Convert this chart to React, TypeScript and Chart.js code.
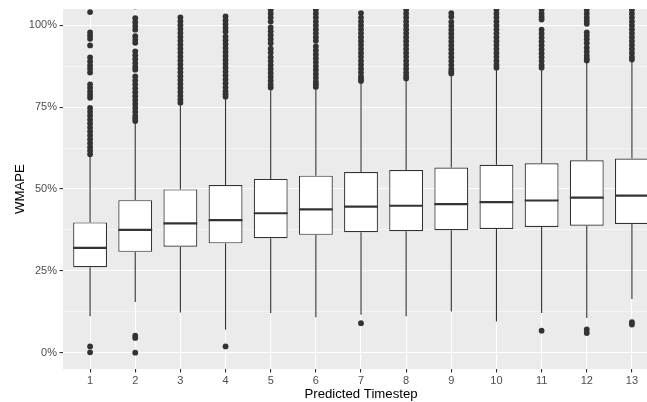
import { useEffect, useRef } from "react";
import { Chart, registerables } from "chart.js";

Chart.register(...registerables);

// Prediction horizon (x categories)
const steps = [1, 2, 3, 4, 5, 6, 7, 8, 9, 10, 11, 12, 13];

// Five-number summaries of WMAPE (%) per predicted timestep
const whiskerLow = [11.1, 15.5, 12.3, 7.0, 12.1, 10.8, 11.6, 11.1, 12.6, 9.5, 12.1, 10.6, 16.4];
const q1 = [26.1, 30.8, 32.4, 33.4, 35.0, 36.0, 36.8, 37.1, 37.4, 37.8, 38.4, 38.8, 39.3];
const median = [32.0, 37.5, 39.5, 40.5, 42.6, 43.8, 44.6, 44.9, 45.4, 46.0, 46.5, 47.4, 48.0];
const q3 = [39.8, 46.6, 49.9, 51.2, 53.1, 54.1, 55.2, 55.8, 56.6, 57.4, 57.9, 58.8, 59.3];
const whiskerHigh = [59.8, 70.0, 75.6, 77.4, 80.2, 80.4, 82.2, 83.0, 84.5, 86.3, 86.3, 88.5, 88.8];

// Outliers above the upper whisker, one list per timestep
const outliersHigh: number[][] = [
  [104.1, 97.9, 96.9, 95.9, 93.9, 90.2, 89.0, 87.8, 86.7, 85.6, 82.0, 80.9, 79.8, 78.8, 77.9, 74.8, 73.6, 72.4, 71.2, 70.0, 68.8, 67.6, 66.4, 65.2, 64.0, 62.8, 61.7, 60.6],
  [105.8, 102.2, 101.0, 99.8, 98.7, 96.7, 95.6, 94.7, 92.1, 90.9, 89.7, 88.5, 87.4, 86.5, 84.4, 83.2, 82.0, 80.8, 79.6, 78.4, 77.2, 76.0, 74.8, 73.6, 72.4, 71.6, 70.8],
  [102.5, 101.3, 100.1, 98.9, 97.7, 96.5, 95.3, 94.1, 92.9, 91.7, 90.5, 89.3, 88.1, 86.9, 85.7, 84.5, 83.3, 82.1, 80.9, 79.7, 78.5, 77.4, 76.4],
  [102.8, 101.6, 100.4, 99.2, 98.1, 96.6, 95.5, 94.3, 93.1, 91.9, 90.7, 89.5, 88.3, 87.1, 85.9, 84.7, 83.5, 82.3, 81.1, 79.9, 79.0, 78.2],
  [106.0, 104.8, 103.6, 102.4, 101.2, 99.4, 98.2, 97.0, 95.8, 94.6, 92.9, 91.7, 90.3, 89.1, 87.9, 86.7, 85.5, 84.3, 83.1, 81.9, 81.0],
  [106.0, 104.8, 103.6, 102.4, 101.2, 100.0, 98.8, 97.6, 96.4, 95.3, 93.6, 92.4, 91.2, 90.0, 88.8, 87.6, 86.4, 85.2, 84.0, 82.8, 82.0, 81.2],
  [103.8, 102.4, 101.2, 100.0, 98.8, 97.6, 96.4, 95.2, 94.0, 92.8, 91.6, 90.4, 89.2, 88.0, 86.8, 85.6, 84.4, 83.6, 83.0],
  [106.0, 104.8, 103.6, 102.4, 101.2, 100.0, 98.8, 97.6, 96.4, 95.2, 94.0, 92.8, 91.6, 90.4, 89.2, 88.0, 86.8, 85.6, 84.6, 83.8],
  [103.8, 102.7, 101.1, 99.9, 98.7, 97.5, 96.3, 95.1, 93.9, 92.7, 91.5, 90.3, 89.1, 87.9, 86.7, 85.9, 85.3],
  [106.0, 104.8, 103.6, 102.4, 101.2, 100.0, 98.8, 97.6, 96.4, 95.2, 94.0, 92.8, 91.6, 90.4, 89.2, 88.0, 87.1],
  [106.0, 104.8, 103.6, 102.6, 101.8, 98.7, 97.5, 96.3, 95.1, 93.9, 92.7, 91.5, 90.3, 89.1, 87.9, 87.1],
  [106.0, 104.8, 103.6, 102.4, 101.4, 100.5, 97.9, 96.9, 95.8, 94.6, 93.2, 92.0, 90.8, 89.9, 89.3],
  [106.0, 104.8, 103.6, 102.4, 101.2, 100.0, 98.8, 97.6, 96.4, 95.2, 94.0, 92.8, 91.6, 90.4, 89.6],
];

// Outliers below the lower whisker
const outliersLow: number[][] = [
  [1.9, 0.1],
  [5.2, 4.5, 0.0],
  [],
  [1.9],
  [],
  [],
  [9.0],
  [],
  [],
  [],
  [6.7],
  [7.1, 6.0],
  [9.3, 8.6],
];

const yMajorTicks = [0, 25, 50, 75, 100];
const yMinorTicks = [12.5, 37.5, 62.5, 87.5];

const INK = "#333333";
const FONT = "'Liberation Sans', Arial, Helvetica, sans-serif";

const panelBackground = {
  id: "panelBackground",
  beforeDraw(chart: any) {
    const { ctx, chartArea: a } = chart;
    ctx.save();
    ctx.fillStyle = "#EBEBEB";
    ctx.fillRect(a.left, a.top, a.right - a.left, a.bottom - a.top);
    ctx.restore();
  },
};

const boxParts = {
  id: "boxParts",
  beforeDatasetsDraw(chart: any) {
    const { ctx, chartArea: a } = chart;
    const x = chart.scales.x;
    const y = chart.scales.y;
    ctx.save();
    ctx.beginPath();
    ctx.rect(a.left, a.top, a.right - a.left, a.bottom - a.top);
    ctx.clip();
    ctx.strokeStyle = INK;
    ctx.lineWidth = 1.1;
    steps.forEach((s, i) => {
      const px = x.getPixelForValue(s);
      ctx.beginPath();
      ctx.moveTo(px, y.getPixelForValue(whiskerLow[i]));
      ctx.lineTo(px, y.getPixelForValue(q1[i]));
      ctx.moveTo(px, y.getPixelForValue(q3[i]));
      ctx.lineTo(px, y.getPixelForValue(whiskerHigh[i]));
      ctx.stroke();
    });
    ctx.restore();
  },
  afterDatasetsDraw(chart: any) {
    const { ctx, chartArea: a } = chart;
    const y = chart.scales.y;
    const meta = chart.getDatasetMeta(0);
    ctx.save();
    ctx.beginPath();
    ctx.rect(a.left, a.top, a.right - a.left, a.bottom - a.top);
    ctx.clip();
    ctx.strokeStyle = INK;
    ctx.lineWidth = 2.2;
    meta.data.forEach((bar: any, i: number) => {
      const { x: cx, width } = bar.getProps(["x", "width"], true);
      const py = y.getPixelForValue(median[i]);
      ctx.beginPath();
      ctx.moveTo(cx - width / 2, py);
      ctx.lineTo(cx + width / 2, py);
      ctx.stroke();
    });
    ctx.restore();
  },
};

export default function App() {
  const canvasRef = useRef<HTMLCanvasElement | null>(null);

  useEffect(() => {
    if (!canvasRef.current) return;

    const boxes = steps.map((s, i) => ({ x: s, y: [q1[i], q3[i]] }));
    const points = steps.flatMap((s, i) =>
      [...outliersHigh[i], ...outliersLow[i]].map((v) => ({ x: s, y: v }))
    );
    const isMajor = (v: number) => yMajorTicks.includes(v);

    const chart = new Chart(canvasRef.current, {
      type: "bar",
      data: {
        datasets: [
          {
            type: "bar",
            data: boxes as any,
            backgroundColor: "#FFFFFF",
            borderColor: INK,
            borderWidth: 1.2,
            borderSkipped: false,
            barPercentage: 0.75,
            categoryPercentage: 1,
            order: 2,
          } as any,
          {
            type: "scatter",
            data: points,
            pointRadius: 2.9,
            pointBackgroundColor: INK,
            pointBorderWidth: 0,
            pointBorderColor: INK,
            showLine: false,
            clip: 0,
            order: 1,
          } as any,
        ],
      },
      options: {
        animation: false,
        responsive: false,
        devicePixelRatio: 1,
        layout: { padding: { top: 9, left: 0, right: 0, bottom: 0 } },
        plugins: {
          legend: { display: false },
          tooltip: { enabled: false },
        },
        scales: {
          x: {
            type: "linear",
            min: 0.4,
            max: 13.6,
            offset: false,
            afterBuildTicks: (scale: any) => {
              scale.ticks = steps.map((v) => ({ value: v }));
            },
            afterFit: (scale: any) => {
              scale.height = 33;
            },
            border: { display: false },
            grid: {
              offset: false,
              color: "#FFFFFF",
              lineWidth: 1.1,
              drawTicks: true,
              tickLength: 3.5,
              tickColor: INK,
              tickWidth: 1.1,
            },
            ticks: {
              autoSkip: false,
              maxRotation: 0,
              padding: 2,
              color: "#4D4D4D",
              font: { family: FONT, size: 11 },
              callback: (v: any) => String(v),
            },
            title: {
              display: true,
              text: "Predicted Timestep",
              color: "#000000",
              font: { family: FONT, size: 13.2 },
              padding: { top: 0, bottom: 0 },
            },
          },
          y: {
            type: "linear",
            min: -5,
            max: 105,
            afterBuildTicks: (scale: any) => {
              scale.ticks = [...yMajorTicks, ...yMinorTicks]
                .sort((a, b) => a - b)
                .map((v) => ({ value: v }));
            },
            afterFit: (scale: any) => {
              scale.width = 63;
            },
            border: { display: false },
            grid: {
              color: "#FFFFFF",
              lineWidth: (c: any) => (isMajor(c.tick.value) ? 1.1 : 0.55),
              drawTicks: true,
              tickLength: 3.5,
              tickColor: (c: any) => (isMajor(c.tick.value) ? INK : "rgba(0,0,0,0)"),
              tickWidth: 1.1,
            },
            ticks: {
              autoSkip: false,
              padding: 2.5,
              color: "#4D4D4D",
              font: { family: FONT, size: 11 },
              callback: (v: any) => (isMajor(v) ? `${v}%` : ""),
            },
            title: {
              display: true,
              text: "WMAPE",
              color: "#000000",
              font: { family: FONT, size: 13.2 },
              padding: { top: 12, bottom: 0 },
            },
          },
        },
      },
      plugins: [panelBackground, boxParts],
    });

    return () => chart.destroy();
  }, []);

  return (
    <div
      style={{
        position: "fixed",
        left: 0,
        top: 0,
        width: 647,
        height: 402,
        overflow: "hidden",
        background: "#FFFFFF",
      }}
    >
      <canvas ref={canvasRef} width={663} height={402} style={{ display: "block" }} />
    </div>
  );
}
